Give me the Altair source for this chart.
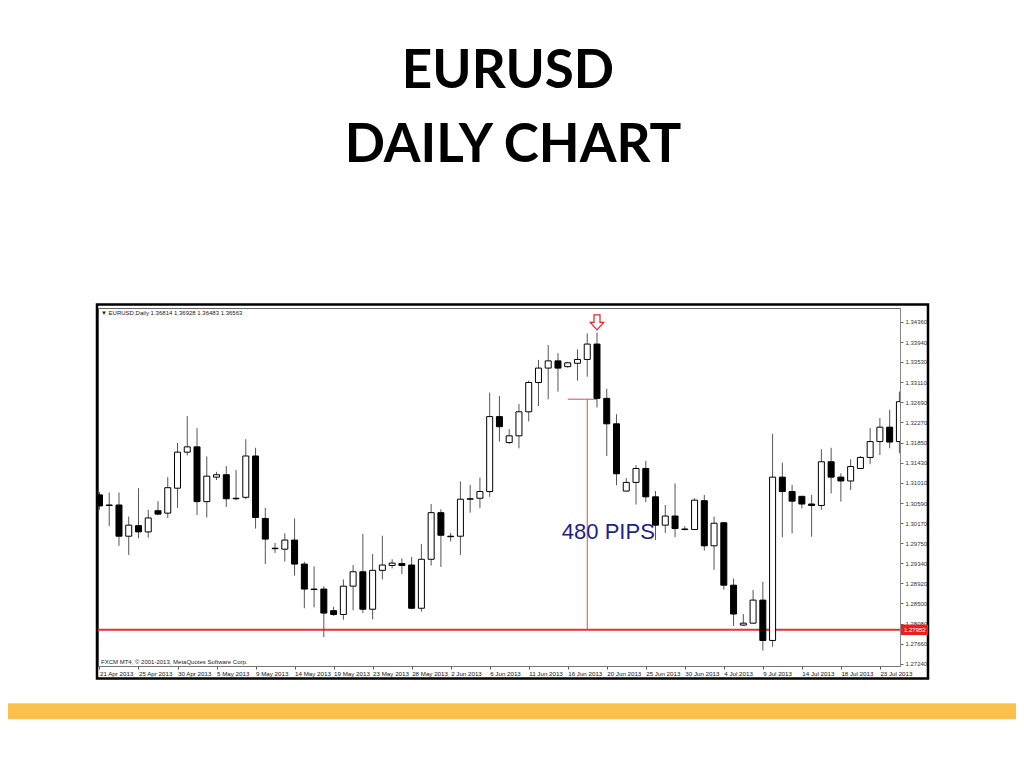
import json
import altair as alt
import pandas as pd

# ---------------- data ----------------
tick_labels = ["21 Apr 2013", "25 Apr 2013", "30 Apr 2013", "5 May 2013", "9 May 2013",
               "14 May 2013", "19 May 2013", "23 May 2013", "28 May 2013", "2 Jun 2013",
               "6 Jun 2013", "11 Jun 2013", "16 Jun 2013", "20 Jun 2013", "25 Jun 2013",
               "30 Jun 2013", "4 Jul 2013", "9 Jul 2013", "14 Jul 2013", "18 Jul 2013",
               "23 Jul 2013"]
bars_per_label = 4

price_ticks = [1.34360, 1.33940, 1.33530, 1.33110, 1.32690, 1.32270, 1.31850, 1.31430,
               1.31010, 1.30590, 1.30170, 1.29750, 1.29340, 1.28920, 1.28500, 1.28080,
               1.27660, 1.27240]

open_ = [1.3076, 1.3055, 1.3055, 1.2990, 1.3012, 1.2999, 1.3043, 1.3038, 1.3090, 1.3165,
         1.3176, 1.3062, 1.3113, 1.3118, 1.3069, 1.3071, 1.3157, 1.3027, 1.2965, 1.2963,
         1.2982, 1.2932, 1.2880, 1.2880, 1.2835, 1.2827, 1.2886, 1.2916, 1.2838, 1.2919,
         1.2929, 1.2933, 1.2930, 1.2840, 1.2942, 1.3039, 1.2990, 1.2990, 1.3067, 1.3069,
         1.3083, 1.3239, 1.3185, 1.3199, 1.3249, 1.3310, 1.3340, 1.3355, 1.3343, 1.3350,
         1.3358, 1.3390, 1.3277, 1.3224, 1.3084, 1.3102, 1.3131, 1.3072, 1.3013, 1.3032,
         1.3005, 1.3004, 1.3064, 1.2970, 1.3018, 1.2888, 1.2805, 1.2809, 1.2857, 1.2773,
         1.3113, 1.3083, 1.3073, 1.3057, 1.3054, 1.3145, 1.3113, 1.3105, 1.3131, 1.3154,
         1.3187, 1.3217, 1.3187]
high = [1.3082, 1.3081, 1.3081, 1.3031, 1.3090, 1.3045, 1.3063, 1.3113, 1.3184, 1.3240,
        1.3215, 1.3156, 1.3124, 1.3136, 1.3128, 1.3192, 1.3174, 1.3049, 1.2976, 1.2996,
        1.3027, 1.2937, 1.2927, 1.2886, 1.2843, 1.2900, 1.2930, 1.2995, 1.2953, 1.2991,
        1.2942, 1.2944, 1.2947, 1.2974, 1.3057, 1.3046, 1.2997, 1.3104, 1.3097, 1.3112,
        1.3289, 1.3282, 1.3213, 1.3265, 1.3314, 1.3357, 1.3388, 1.3371, 1.3353, 1.3379,
        1.3412, 1.3414, 1.3297, 1.3244, 1.3111, 1.3138, 1.3147, 1.3084, 1.3055, 1.3100,
        1.3011, 1.3069, 1.3076, 1.3031, 1.3020, 1.2902, 1.2828, 1.2878, 1.2895, 1.3203,
        1.3143, 1.3097, 1.3074, 1.3076, 1.3171, 1.3174, 1.3121, 1.3150, 1.3157, 1.3215,
        1.3236, 1.3253, 1.3291]
low = [1.3045, 1.3011, 1.2970, 1.2951, 1.2986, 1.2987, 1.3034, 1.3028, 1.3049, 1.3158,
       1.3034, 1.3029, 1.3107, 1.3051, 1.3065, 1.3067, 1.3006, 1.2932, 1.2955, 1.2937,
       1.2908, 1.2840, 1.2842, 1.2780, 1.2824, 1.2816, 1.2836, 1.2830, 1.2817, 1.2900,
       1.2923, 1.2911, 1.2838, 1.2833, 1.2929, 1.2926, 1.2979, 1.2951, 1.3039, 1.3048,
       1.3072, 1.3187, 1.3182, 1.3173, 1.3229, 1.3261, 1.3275, 1.3291, 1.3341, 1.3314,
       1.3322, 1.3258, 1.3157, 1.3096, 1.3083, 1.3056, 1.3061, 1.2982, 1.2997, 1.2988,
       1.3002, 1.3003, 1.2960, 1.2920, 1.2879, 1.2803, 1.2804, 1.2808, 1.2752, 1.2760,
       1.2988, 1.2996, 1.3048, 1.2989, 1.3045, 1.3079, 1.3062, 1.3086, 1.3130, 1.3140,
       1.3159, 1.3173, 1.3163]
close = [1.3053, 1.3054, 1.2990, 1.3013, 1.2999, 1.3028, 1.3036, 1.3091, 1.3165, 1.3176,
         1.3062, 1.3115, 1.3118, 1.3068, 1.3068, 1.3157, 1.3029, 1.2984, 1.2964, 1.2982,
         1.2932, 1.2880, 1.2879, 1.2830, 1.2827, 1.2886, 1.2916, 1.2838, 1.2919, 1.2930,
         1.2934, 1.2929, 1.2840, 1.2942, 1.3039, 1.2992, 1.2989, 1.3067, 1.3068, 1.3083,
         1.3239, 1.3218, 1.3199, 1.3249, 1.3310, 1.3340, 1.3355, 1.3340, 1.3351, 1.3358,
         1.3390, 1.3277, 1.3224, 1.3120, 1.3102, 1.3131, 1.3072, 1.3013, 1.3032, 1.3006,
         1.3004, 1.3065, 1.2970, 1.3017, 1.2888, 1.2828, 1.2809, 1.2857, 1.2773, 1.3113,
         1.3083, 1.3063, 1.3057, 1.3054, 1.3145, 1.3113, 1.3105, 1.3135, 1.3154, 1.3187,
         1.3217, 1.3186, 1.3270]

support_price = 1.27952
pips_top_price = 1.32752
pips_bar = 50
pips_seg_bars = [48, 51]
pips_label = "480 PIPS"
pips_label_pos = [47.4, 1.2999]
signal_bar = 51
signal_price = 1.3435
header_text = "\u25BC EURUSD,Daily  1.36814 1.36928 1.36483 1.36563"
footer_text = "FXCM MT4, \u00A9 2001-2013, MetaQuotes Software Corp."
title_lines = ["EURUSD", "DAILY CHART"]

# ---------------- chart ----------------
df = pd.DataFrame({"bar": range(len(open_)), "open": open_, "high": high,
                   "low": low, "close": close})

W, H = 802, 358
xscale = alt.Scale(domain=[-0.15, 82.06], nice=False, zero=False, padding=0)
yscale = alt.Scale(domain=[1.27198, 1.34651], nice=False, zero=False, padding=0)
mt_font = "Liberation Sans"

label_expr = json.dumps(tick_labels) + "[round(datum.value/%d)]" % bars_per_label
x_axis = alt.Axis(values=list(range(0, len(tick_labels) * bars_per_label, bars_per_label)),
                  labelExpr=label_expr, labelAlign="left", labelBaseline="top",
                  labelPadding=1, tickSize=3, tickColor="#555",
                  domainColor="#777", labelFontSize=6.2, labelFont=mt_font,
                  labelColor="#111", grid=False, title=None, labelOverlap=False,
                  labelFlush=False)
y_axis = alt.Axis(orient="right", values=price_ticks, format=".5f", tickSize=3,
                  tickColor="#666", domainColor="#888", labelFontSize=6,
                  labelFont=mt_font, labelColor="#333", labelPadding=2, grid=False,
                  title=None, labelOverlap=False, labelFlush=False)


def X(field):
    return alt.X(field, scale=xscale, axis=x_axis)


def Y(field):
    return alt.Y(field, scale=yscale, axis=y_axis)


wicks = alt.Chart(df).mark_rule(color="#555", strokeWidth=1, clip=True).encode(
    x=X("bar:Q"), y=Y("low:Q"), y2="high:Q")
bodies = alt.Chart(df).mark_bar(width=6, stroke="black", strokeWidth=1, clip=True).encode(
    x=X("bar:Q"), y=Y("open:Q"), y2="close:Q",
    fill=alt.condition("datum.close < datum.open", alt.value("black"), alt.value("white")),
)

one = pd.DataFrame({"k": [0]})

support = alt.Chart(pd.DataFrame({"p": [support_price]})).mark_rule(
    color="#E8302C", strokeWidth=2).encode(y=Y("p:Q"))

pips_df = pd.DataFrame({"bar": [pips_bar], "lo": [support_price], "hi": [pips_top_price]})
pips_v = alt.Chart(pips_df).mark_rule(color="#E64A4A", strokeWidth=1).encode(
    x=X("bar:Q"), y=Y("lo:Q"), y2="hi:Q")
seg_df = pd.DataFrame({"b0": [pips_seg_bars[0]], "b1": [pips_seg_bars[1]], "p": [pips_top_price]})
pips_h = alt.Chart(seg_df).mark_rule(color="#E64A4A", strokeWidth=1).encode(
    x=X("b0:Q"), x2="b1:Q", y=Y("p:Q"))
pips_txt = alt.Chart(pd.DataFrame({"x": [pips_label_pos[0]], "y": [pips_label_pos[1]],
                                   "t": [pips_label]})).mark_text(
    align="left", baseline="middle", font=mt_font, fontSize=22, color="#1E1E8C").encode(
    x=X("x:Q"), y=Y("y:Q"), text="t:N")

arrow_shape = "M-0.4,-1 L0.4,-1 L0.4,0 L0.9,0 L0,1 L-0.9,0 L-0.4,0 Z"
arrow = alt.Chart(pd.DataFrame({"bar": [signal_bar], "p": [signal_price]})).mark_point(
    shape=arrow_shape, size=225, filled=True, fill="white", stroke="#E8231E",
    strokeWidth=1.2, opacity=1).encode(x=X("bar:Q"), y=Y("p:Q"))

box_shape = "M-1,-0.39 L1,-0.39 L1,0.39 L-1,0.39 Z"
price_box = alt.Chart(pd.DataFrame({"p": [support_price]})).mark_point(
    shape=box_shape, size=729, filled=True, color="#E8201C", opacity=1).encode(
    x=alt.value(W + 14.5), y=Y("p:Q"))
price_box_txt = alt.Chart(pd.DataFrame({"p": [support_price],
                                        "t": [f"{support_price:.5f}"]})).mark_text(
    align="left", baseline="middle", font=mt_font, fontSize=6, color="white").encode(
    x=alt.value(W + 4), y=Y("p:Q"), text="t:N")

header = alt.Chart(one).mark_text(align="left", baseline="middle", font=mt_font,
                                  fontSize=6, color="#222", text=header_text).encode(
    x=alt.value(3), y=alt.value(5))
footer = alt.Chart(one).mark_text(align="left", baseline="middle", font=mt_font,
                                  fontSize=6, color="#222", text=footer_text).encode(
    x=alt.value(3), y=alt.value(H - 4))

frame = alt.Chart(one).mark_rect(fillOpacity=0, stroke="black", strokeWidth=2.5).encode(
    x=alt.value(-1), x2=alt.value(W + 28), y=alt.value(-3.5), y2=alt.value(H + 12.5))

band = alt.Chart(one).mark_rect(color="#FCC14D").encode(
    x=alt.value(-90), x2=alt.value(W + 116), y=alt.value(395.3), y2=alt.value(411.3))

title1 = alt.Chart(one).mark_text(align="center", baseline="alphabetic", font="Lato",
                                  fontSize=53, fontWeight="bold", color="black",
                                  text=title_lines[0]).encode(
    x=alt.value(410), y=alt.value(-220))
title2 = alt.Chart(one).mark_text(align="center", baseline="alphabetic", font="Lato",
                                  fontSize=53, fontWeight="bold", color="black",
                                  text=title_lines[1]).encode(
    x=alt.value(415), y=alt.value(-146))

chart = alt.layer(
    band, frame, support, pips_v, pips_h, wicks, bodies, pips_txt, arrow,
    price_box, price_box_txt, header, footer, title1, title2,
).properties(
    width=W, height=H,
    autosize=alt.AutoSizeParams(type="none"),
    padding={"left": 90, "top": 300, "right": 116, "bottom": 60},
    background="white",
).configure_view(stroke="#666", strokeWidth=1)

chart.save("out.html", embed_options={"renderer": "svg", "actions": False})
